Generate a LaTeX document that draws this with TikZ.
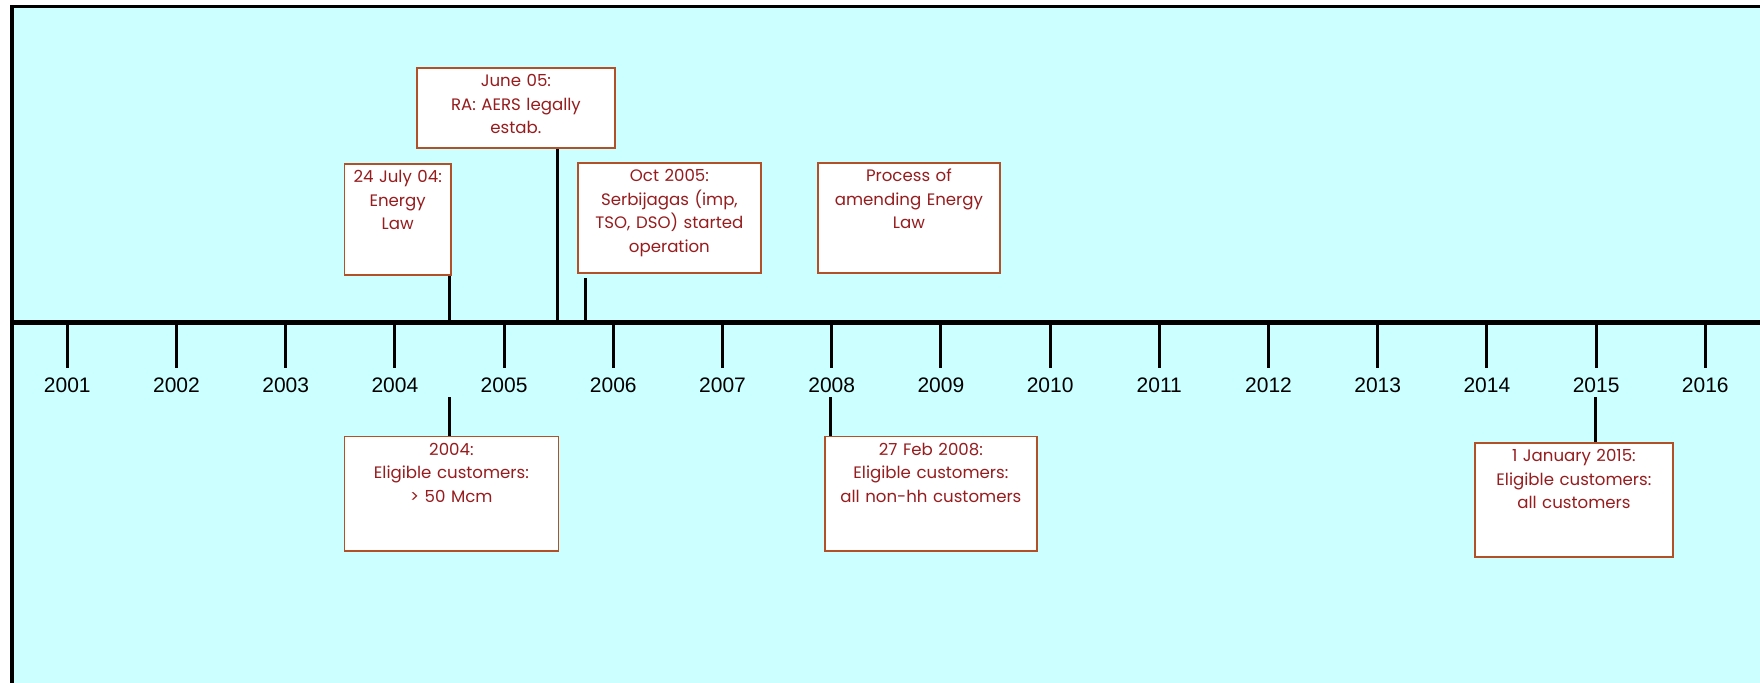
\documentclass[tikz,border=0pt]{standalone}
\usepackage{fontspec}
\setmainfont{Liberation Sans}
\newfontfamily\gothic{Poppins}
\usetikzlibrary{positioning}
\definecolor{paneCyan}{RGB}{204,255,255}
\definecolor{boxRim}{RGB}{178,80,40}
\definecolor{boxInk}{RGB}{150,28,30}
\tikzset{event/.style={draw=boxRim,line width=0.9pt,fill=white,text=boxInk,
    font=\gothic\fontsize{8.3}{11.75}\selectfont,align=center,anchor=north west,
    inner xsep=2pt,inner ysep=2pt,text height=7.5pt}}
\tikzset{stem/.style={line width=1.5pt}}
\tikzset{yeartick/.style={line width=1.5pt}}
\tikzset{year/.style={font=\fontsize{10.5}{12}\selectfont,inner sep=0pt}}

\begin{document}
\begin{tikzpicture}[x=0.5pt,y=-0.5pt,node distance=4.5pt]
      \useasboundingbox (0,0) rectangle (1760,682);
      \clip (0,0) rectangle (1760,682);
      \filldraw[fill=paneCyan,line width=1.75pt] (12,6.3) rectangle (1800,720);

      % time axis
      \coordinate (axisL) at (12,322);
      \coordinate (axisR) at (1770,322);
      \draw[line width=2.5pt] (axisL) -- (axisR);
      \foreach \yr [count=\i from 0] in {2001,...,2016}{
        \coordinate (t\yr) at (67.3+109.2*\i,322);
        \coordinate (k\yr) at (67.3+109.2*\i,368);
        \draw[yeartick] (t\yr) -- (k\yr);
        \node[year,below=of k\yr](y\yr){\yr};
      }

      % events above the axis
      \node[event,text width=95pt,text depth=28.5pt](june05) at (416,67)
        {June 05:\\RA: AERS legally\\estab.};
      \node[event,text width=49.25pt,text depth=44pt](july04) at (343.5,163)
        {24 July 04:\\Energy\\Law};
      \node[event,text width=87.5pt,text depth=43.5pt](oct05) at (577,162)
        {Oct 2005:\\Serbijagas (imp,\\TSO, DSO) started\\operation};
      \node[event,text width=87pt,text depth=43.5pt](amend) at (817,162)
        {Process of\\amending Energy\\Law};

      % events below the axis
      \node[event,text width=103pt,text depth=45.75pt](elig04) at (343.5,435.5)
        {2004:\\Eligible customers:\\> 50 Mcm};
      \node[event,text width=102pt,text depth=45.75pt](elig08) at (824,435.5)
        {27 Feb 2008:\\Eligible customers:\\all non-hh customers};
      \node[event,text width=95pt,text depth=45.7pt](elig15) at (1474,442)
        {1 January 2015:\\Eligible customers:\\all customers};

      \coordinate (d0407) at (449,322);
      \coordinate (d0506) at (557.5,322);
      \coordinate (d0510) at (585,322);
      \coordinate (b04) at (449,397);
      \coordinate (b08) at (830.6,397);
      \coordinate (b15) at (1595,397);
      \draw[stem] (d0407) -- (d0407 |- july04.south);
      \draw[stem] (d0506) -- (d0506 |- june05.south);
      \draw[stem] (d0510) -- ([yshift=-2pt]d0510 |- oct05.south);
      \draw[stem] (b04) -- (b04 |- elig04.north);
      \draw[stem] (b08) -- (b08 |- elig08.north);
      \draw[stem] (b15) -- (b15 |- elig15.north);
    \end{tikzpicture}
\end{document}
